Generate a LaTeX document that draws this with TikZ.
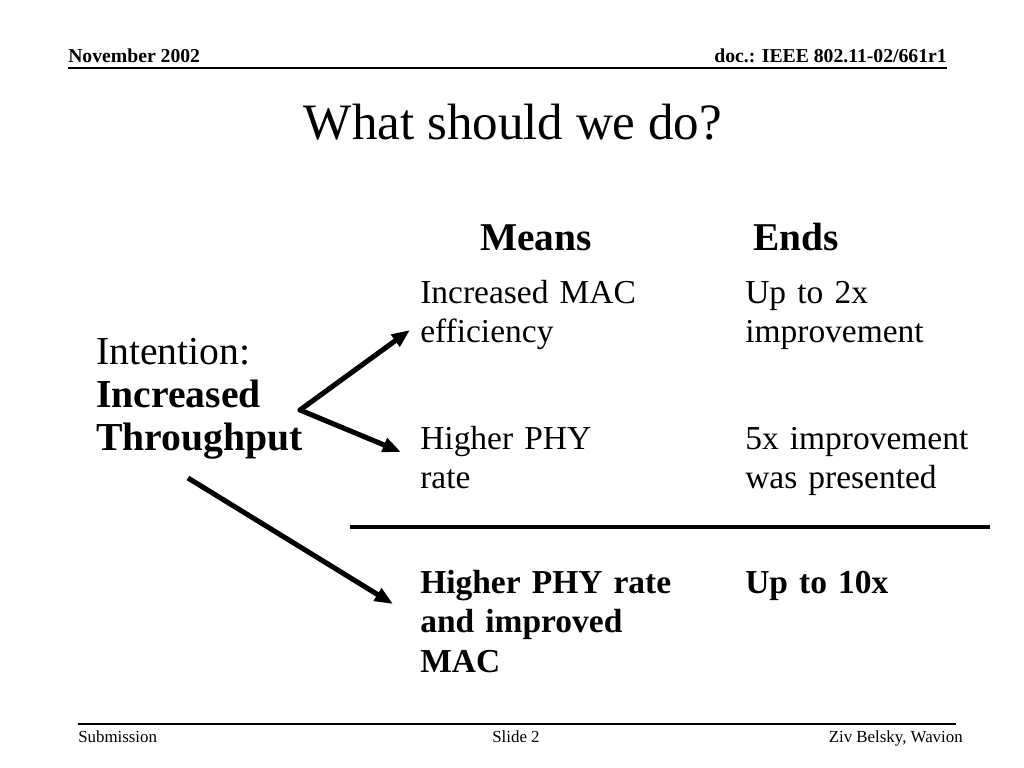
\documentclass[tikz,border=0pt]{standalone}
\usepackage{fontspec}
\setmainfont{Liberation Serif}
\usetikzlibrary{arrows.meta}
\tikzstyle{header} = [font=\fontsize{14}{16}\selectfont\bfseries, inner sep=0pt]
\tikzstyle{footer} = [font=\fontsize{12}{14}\selectfont, inner sep=0pt]
\tikzstyle{cell} = [anchor=base west, inner sep=0pt, align=left,
                    text width=8cm, font=\fontsize{23.8}{28.4}\selectfont]
\tikzstyle{colhead} = [anchor=base west, inner sep=0pt,
                       font=\fontsize{28}{32}\selectfont\bfseries]
\tikzstyle{arrow} = [line width=3.6pt, -{Triangle[length=13pt,width=10pt]}]

\begin{document}
\begin{tikzpicture}[x=0.025cm, y=-0.025cm]
        \useasboundingbox (0,0) rectangle (1024,768);

        % header and footer
        \node (Date) [header, anchor=base west] at (68,63) {November 2002};
        \node (Doc) [header, anchor=base east] at (947,63) {doc.: IEEE 802.11-02/661r1};
        \draw [line width=1.2pt] (68,68) -- (947,68);
        \draw [line width=1.2pt] (78,724) -- (956,724);
        \node (Submission) [footer, anchor=base west] at (78,742) {Submission};
        \node (Slide) [footer, anchor=base] at (516,742) {Slide 2};
        \node (Author) [footer, anchor=base east] at (963,742) {Ziv Belsky, Wavion};

        % title
        \node (Title) [anchor=base, inner sep=0pt, font=\fontsize{36.3}{44}\selectfont] at (513,140) {What should we do?};

        % column heads
        \node (Means) [colhead] at (480,250) {Means};
        \node (Ends) [colhead] at (753,250) {Ends};

        % intention
        \node (Intention) [anchor=base west, inner sep=0pt, align=left, text width=6cm,
              font=\fontsize{28.2}{30.6}\selectfont] at (96,364)
              {Intention:\\\textbf{Increased}\\\textbf{Throughput}};

        % rows
        \node (Mac) [cell] at (420,303) {Increased MAC\\efficiency};
        \node (MacEnd) [cell] at (745,303) {Up to 2x\\improvement};
        \node (Phy) [cell] at (420,449) {Higher PHY\\rate};
        \node (PhyEnd) [cell] at (745,449) {5x improvement\\was presented};
        \node (Both) [cell, font=\fontsize{23.8}{28.4}\selectfont\bfseries] at (420,593)
              {Higher PHY rate\\and improved\\MAC};
        \node (BothEnd) [cell, font=\fontsize{23.8}{28.4}\selectfont\bfseries] at (745,593) {Up to 10x};

        \draw [line width=2.2pt] (350,527) -- (990,527); %separator

        \coordinate (Fork) at (300,410);
        \coordinate (MacTip) at (410,330);
        \coordinate (PhyTip) at (401,452);
        \coordinate (Start) at (188,478);
        \coordinate (BothTip) at (393,604);
        \draw [arrow, line cap=round] (Fork) -- (MacTip); %mac
        \draw [arrow, line cap=round] (Fork) -- (PhyTip); %phy
        \draw [arrow] (Start) -- (BothTip); %both

\end{tikzpicture}
\end{document}
